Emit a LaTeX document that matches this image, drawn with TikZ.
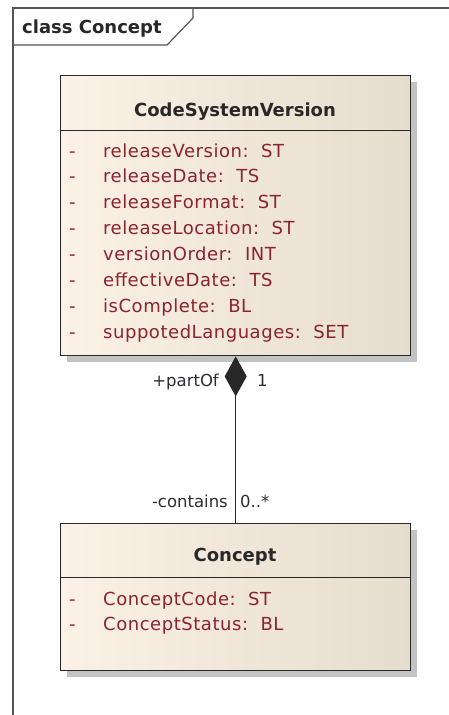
\documentclass[tikz,border=0pt]{standalone}
\usepackage{fontspec}
\setmainfont{DejaVu Sans}
\newfontfamily\attrfont[LetterSpace=3]{DejaVu Sans}
\usetikzlibrary{arrows.meta,shadows}

\definecolor{frameline}{RGB}{85,85,85}
\definecolor{boxline}{RGB}{40,40,40}
\definecolor{attrred}{RGB}{140,35,45}
\definecolor{fillL}{RGB}{251,241,230}
\definecolor{fillR}{RGB}{229,221,205}
\definecolor{shadowgray}{RGB}{195,195,195}
\definecolor{labelink}{RGB}{45,45,55}
\definecolor{titleink}{RGB}{40,40,40}

\begin{document}
\begin{tikzpicture}[x=1pt,y=-1pt,
  compart/.style={draw=boxline, line width=1.4pt, left color=fillL, right color=fillR,
    inner sep=0pt, anchor=north west, minimum width=350pt,
    drop shadow={shadow xshift=6pt, shadow yshift=-6pt, fill=shadowgray, opacity=1}},
  classtitle/.style={font=\fontsize{18}{20}\selectfont\bfseries, text=titleink, inner sep=0pt, anchor=base},
  attr/.style={font=\fontsize{18}{20}\selectfont\attrfont, text=attrred, inner sep=0pt, anchor=base west},
  lbl/.style={font=\fontsize{16.5}{19}\selectfont, text=labelink, inner sep=0pt},
  frame/.style={draw=frameline, line width=1.2pt}
]
\useasboundingbox (0,0) rectangle (449,715);
\fill[white] (0,0) rectangle (449,715);

% diagram frame with its name tab
\draw[frame] (13,715) -- (13,8) -- (449,8);
\draw[frame] (13,45) -- (167,45) -- (193,18) -- (193,8);
\node[font=\fontsize{18}{20}\selectfont\bfseries, text=titleink, inner sep=0pt, anchor=base west]
  (frametitle) at (22,33) {class Concept};

% class CodeSystemVersion
\node[compart, minimum height=55pt] (csvhead) at (60,75) {};
\node[compart, minimum height=225pt] (csvbody) at (60,130) {};
\node[classtitle] (csvtitle) at (235,116) {CodeSystemVersion};
\foreach \attrname [count=\i] in {releaseVersion:~~ST, releaseDate:~~TS, releaseFormat:~~ST,
    releaseLocation:~~ST, versionOrder:~~INT, effectiveDate:~~TS, isComplete:~~BL,
    suppotedLanguages:~~SET} {
  \node[attr] (csvdash\i) at (69,{157+25.9*(\i-1)}) {-};
  \node[attr] (csvattr\i) at (103,{157+25.9*(\i-1)}) {\attrname};
}

% class Concept
\node[compart, minimum height=54pt] (conhead) at (60,523) {};
\node[compart, minimum height=93pt] (conbody) at (60,577) {};
\node[classtitle] (contitle) at (235,561) {Concept};
\node[attr] (condash1) at (69,605) {-};
\node[attr] (conattr1) at (103,605) {ConceptCode:~~ST};
\node[attr] (condash2) at (69,630) {-};
\node[attr] (conattr2) at (103,630) {ConceptStatus:~~BL};

% composition between the two classes
\draw[boxline, line width=1.3pt, {Diamond[length=40pt,width=22pt]}-]
  (csvbody.south) -- (conhead.north);
\node[lbl, anchor=base east] (partof) at (219,386) {+partOf};
\node[lbl, anchor=base west] (partofmult) at (257,386) {1};
\node[lbl, anchor=base east] (contains) at (228,507) {-contains};
\node[lbl, anchor=base west] (containsmult) at (240,507) {0..*};
\end{tikzpicture}
\end{document}
